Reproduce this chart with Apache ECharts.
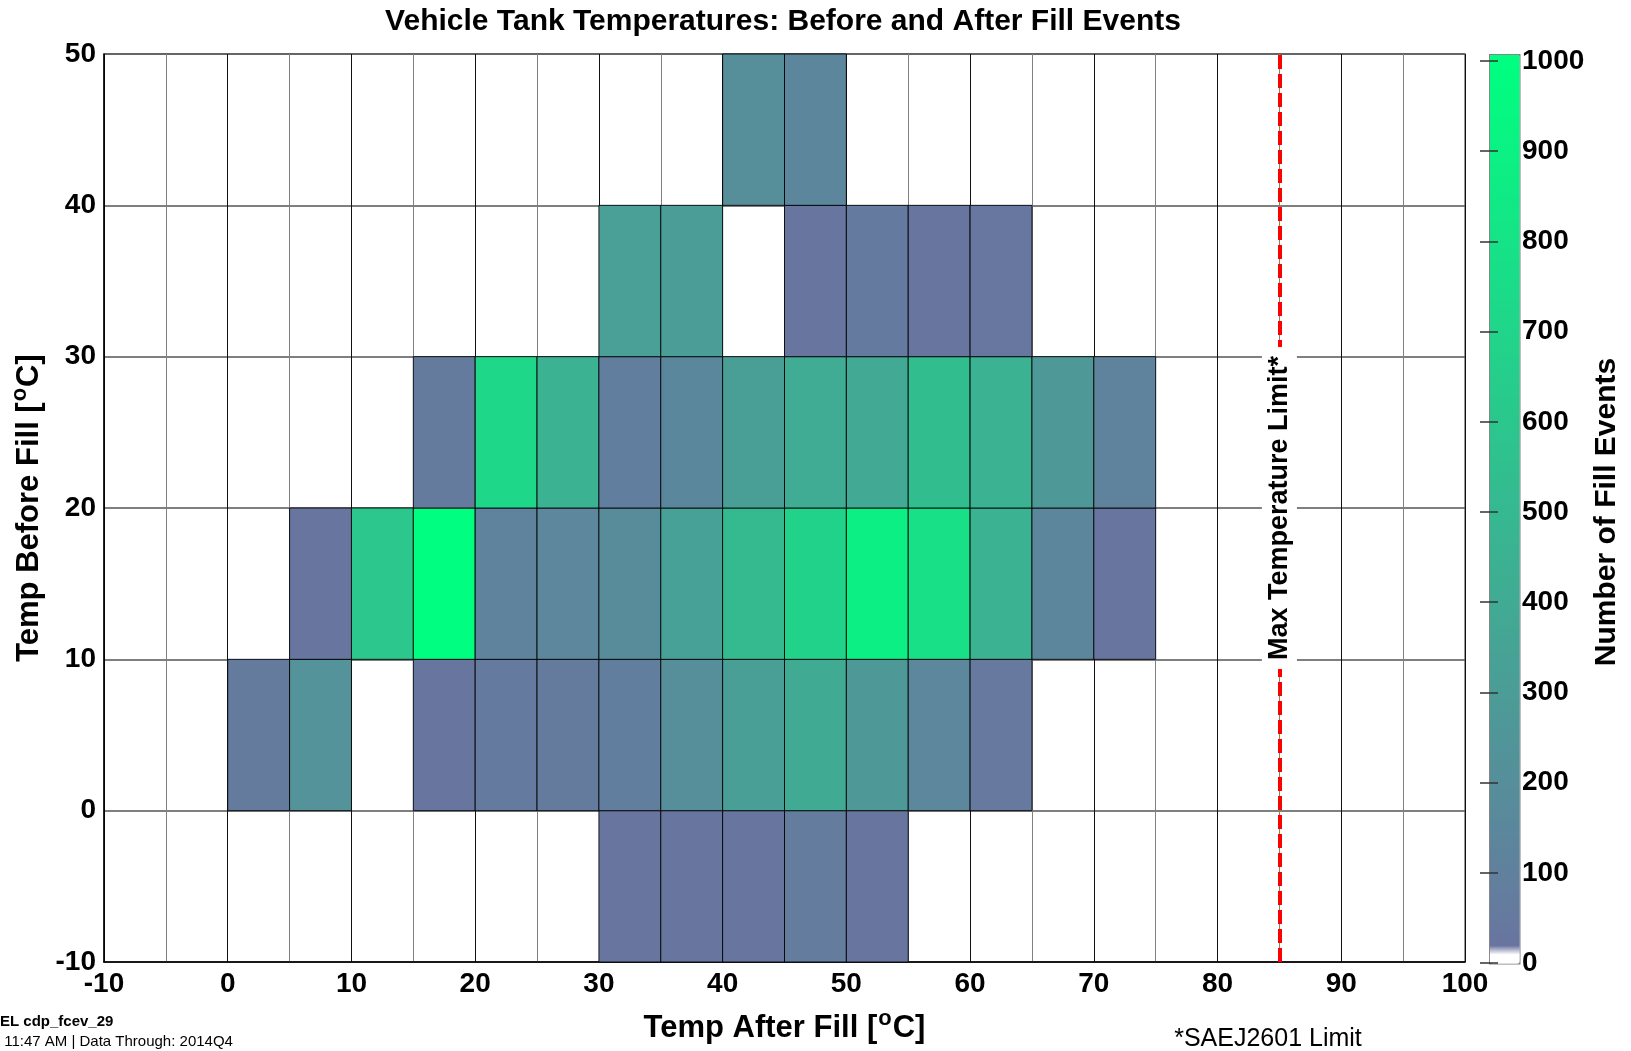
<!DOCTYPE html>
<html><head><meta charset="utf-8">
<script src="https://cdn.jsdelivr.net/npm/echarts@6/dist/echarts.min.js"></script>
<style>html,body{margin:0;padding:0;background:#fff}#c{width:1631px;height:1051px}</style>
</head><body><div id="c"></div>
<script>
// ---- data ----
const xBinStarts = [-10,-5,0,5,10,15,20,25,30,35,40,45,50,55,60,65,70,75,80,85,90,95];
const yBinStarts = [-10,0,10,20,30,40];
const countsYm10 = [0,0,0,0,0,0,0,0,30,30,30,72,30,0,0,0,0,0,0,0,0,0];
const countsY0   = [0,0,60,230,0,30,55,60,85,195,317,400,275,145,45,0,0,0,0,0,0,0];
const countsY10  = [0,0,0,30,600,1000,115,145,185,330,510,690,890,777,450,144,30,0,0,0,0,0];
const countsY20  = [0,0,0,0,0,60,720,450,85,150,317,410,390,530,450,275,115,0,0,0,0,0];
const countsY30  = [0,0,0,0,0,0,0,0,315,305,0,30,58,30,35,0,0,0,0,0,0,0];
const countsY40  = [0,0,0,0,0,0,0,0,0,0,200,140,0,0,0,0,0,0,0,0,0,0];
const binWidthX = 5;
const binHeightY = 10;
const xTickLabels = [-10,0,10,20,30,40,50,60,70,80,90,100];
const yTickLabels = [-10,0,10,20,30,40,50];
const colorbarTickLabels = [0,100,200,300,400,500,600,700,800,900,1000];
const maxTempLimit = 85;

const rows = [countsYm10, countsY0, countsY10, countsY20, countsY30, countsY40];
const cells = [];
rows.forEach((row, j) => row.forEach((v, i) => { if (v > 0) cells.push([xBinStarts[i], yBinStarts[j], v]); }));

// ---- colour ramp (style) ----
const FONT = "'Liberation Sans', Arial, sans-serif";
const lowC = [0x6a,0x74,0xa0], highC = [0x00,0xff,0x80];
const cbMax = 1008;      // colour bar extends slightly above the 1000 tick
const whiteBelow = 13;
const ramp = [];
const nStops = 800;
for (let i = 0; i <= nStops; i++) {
  const v = cbMax * i / nStops;
  if (v < whiteBelow - 0.5) { ramp.push('#ffffff'); continue; }
  const t = Math.min(1, Math.max(0, (v - whiteBelow) / (1000 - whiteBelow)));
  const c = lowC.map((a, k) => Math.round(a + (highC[k] - a) * t));
  ramp.push('rgb(' + c.join(',') + ')');
}

const chart = echarts.init(document.getElementById('c'), null, {renderer: 'canvas'});
const supRich = {
  b: {fontSize: 31, fontWeight: 'bold', fontFamily: FONT, color: '#000'},
  s: {fontSize: 22, fontWeight: 'bold', fontFamily: FONT, color: '#000', verticalAlign: 'top', padding: [0,1,18,1]}
};
chart.setOption({
  animation: false,
  backgroundColor: '#fff',
  grid: [
    {left: 104, top: 54, width: 1361, height: 908, show: true, borderColor: '#777', borderWidth: 1.5, backgroundColor: 'transparent'},
    {left: 1489, top: 61, width: 30, height: 902, show: false, z: 10}
  ],
  xAxis: [
    {type: 'value', gridIndex: 0, min: xTickLabels[0], max: xTickLabels[xTickLabels.length-1], interval: 10,
     axisLine: {show: true, onZero: false, lineStyle: {color: '#000', width: 1.5}},
     axisTick: {show: false},
     axisLabel: {fontSize: 28, fontWeight: 'bold', fontFamily: FONT, color: '#000', margin: 8, formatter: v => String(v)},
     splitLine: {show: true, lineStyle: {color: '#111', width: 1}},
     minorTick: {show: false, splitNumber: 2},
     minorSplitLine: {show: true, lineStyle: {color: '#808080', width: 1}},
     name: '{b|Temp After Fill [}{s|o}{b|C]}', nameLocation: 'middle', nameGap: 46,
     nameTextStyle: {rich: supRich}
    },
    {type: 'value', gridIndex: 1, min: 0, max: 1, show: false}
  ],
  yAxis: [
    {type: 'value', gridIndex: 0, min: yTickLabels[0], max: yTickLabels[yTickLabels.length-1], interval: 10,
     axisLine: {show: true, onZero: false, lineStyle: {color: '#000', width: 1.5}},
     axisTick: {show: false},
     axisLabel: {fontSize: 28, fontWeight: 'bold', fontFamily: FONT, color: '#000', margin: 8, formatter: v => String(v)},
     splitLine: {show: true, lineStyle: {color: '#555', width: 1.5}},
     name: '{b|Temp Before Fill [}{s|o}{b|C]}', nameLocation: 'middle', nameRotate: 90, nameGap: 50,
     nameTextStyle: {rich: supRich}
    },
    {type: 'value', gridIndex: 1, position: 'right', min: colorbarTickLabels[0], max: colorbarTickLabels[colorbarTickLabels.length-1], interval: 100, z: 10,
     axisLine: {show: false}, splitLine: {show: false},
     axisTick: {show: true, inside: true, length: 9, lineStyle: {color: '#333', width: 1.5}},
     axisLabel: {fontSize: 28, fontWeight: 'bold', fontFamily: FONT, color: '#000', margin: 3, formatter: v => String(v)},
     name: 'Number of Fill Events', nameLocation: 'middle', nameRotate: 90, nameGap: 73,
     nameTextStyle: {fontSize: 30, fontWeight: 'bold', fontFamily: FONT, color: '#000'}
    },
    {type: 'value', gridIndex: 1, position: 'left', min: 0, max: 1000, interval: 100, z: 10,
     axisLine: {show: false}, splitLine: {show: false}, axisLabel: {show: false},
     axisTick: {show: true, inside: true, length: 9, lineStyle: {color: '#333', width: 1.5}}
    }
  ],
  visualMap: {
    type: 'continuous', seriesIndex: 0, dimension: 2, min: 0, max: cbMax,
    calculable: false, hoverLink: false, realtime: false,
    left: 1489, top: 54, itemWidth: 30, itemHeight: 909, padding: 0,
    text: ['', ''], showLabel: false,
    borderColor: '#808080', borderWidth: 1.5,
    inRange: {color: ramp}
  },
  graphic: [
    {type: 'text', style: {text: 'Vehicle Tank Temperatures: Before and After Fill Events', x: 783, y: 22, align: 'center', verticalAlign: 'middle', font: 'bold 30px ' + FONT, fill: '#000'}},
    {type: 'text', style: {text: 'EL cdp_fcev_29', x: 0, y: 1022, verticalAlign: 'middle', font: 'bold 15px ' + FONT, fill: '#000'}},
    {type: 'text', style: {text: ' 11:47 AM | Data Through: 2014Q4', x: 0, y: 1042, verticalAlign: 'middle', font: '15px ' + FONT, fill: '#000'}},
    {type: 'text', style: {text: '*SAEJ2601 Limit', x: 1268, y: 1039, align: 'center', verticalAlign: 'middle', font: '25px ' + FONT, fill: '#000'}}
  ],
  series: [{
    type: 'custom',
    xAxisIndex: 0, yAxisIndex: 0,
    encode: {x: 0, y: 1},
    data: cells,
    renderItem: function (params, api) {
      const x0 = api.value(0), y0 = api.value(1);
      const p0 = api.coord([x0, y0 + binHeightY]);
      const p1 = api.coord([x0 + binWidthX, y0]);
      return {type: 'rect', shape: {x: p0[0], y: p0[1], width: p1[0] - p0[0], height: p1[1] - p0[1]},
              style: {fill: api.visual('color'), stroke: 'rgba(0,0,0,0.85)', lineWidth: 1}};
    },
    markLine: {
      silent: true, symbol: ['none', 'none'],
      lineStyle: {color: '#ff0000', type: [14, 5], width: 4},
      label: {show: true, position: 'middle', formatter: 'Max Temperature Limit*', distance: 0, verticalAlign: 'middle',
              fontSize: 27, fontWeight: 'bold', fontFamily: FONT, color: '#000', backgroundColor: '#fff', padding: [4, 9]},
      data: [{xAxis: maxTempLimit}]
    }
  }]
});
</script></body></html>
